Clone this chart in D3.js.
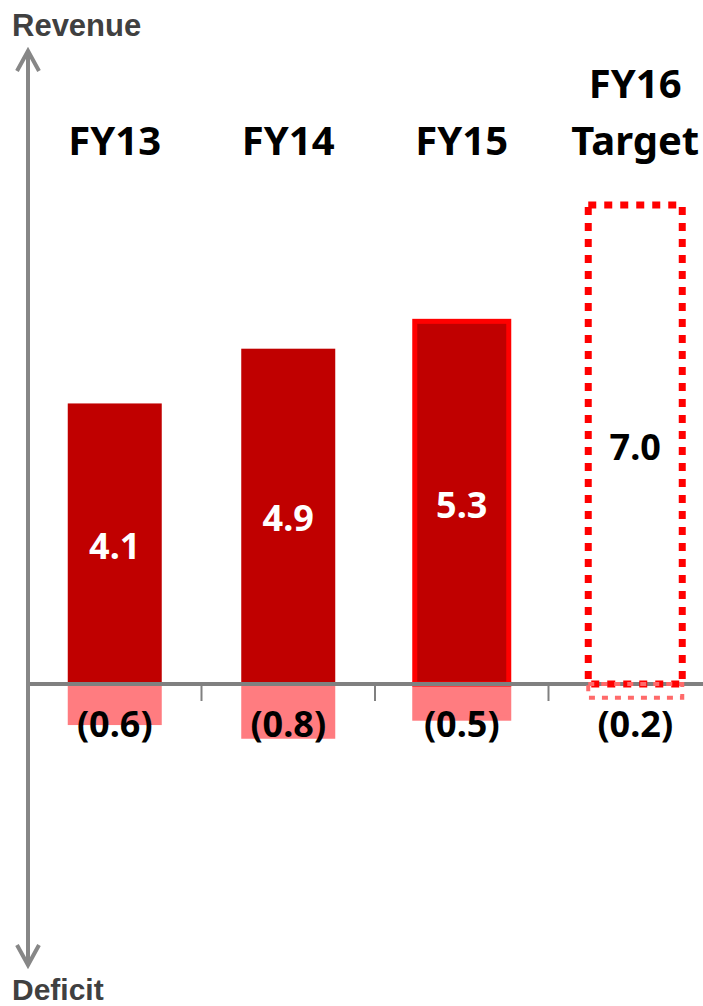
<!DOCTYPE html>
<meta charset="utf-8">
<html>
	<head>
		<title>Revenue and Deficit</title>
		<!-- Add scripts from D3  -->
		<script src="https://d3js.org/d3.v7.min.js"></script>
		<style>
			body {
			  margin: 0;
			  background: #fff;
			}
		</style>
	</head>
<body>
	<script type="text/javascript">

	// data
	var years = ["FY13", "FY14", "FY15", "FY16"];
	var yearLabels = [["FY13"], ["FY14"], ["FY15"], ["FY16", "Target"]];
	var revenue = [4.1, 4.9, 5.3, 7.0];
	var deficit = [-0.6, -0.8, -0.5, -0.2];
	var revenueText = ["4.1", "4.9", "5.3", "7.0"];
	var deficitText = ["(0.6)", "(0.8)", "(0.5)", "(0.2)"];

	var width = 703;
	var height = 1006;

	var svg = d3.select("body")
		.append("svg")
		.attr("width", width)
		.attr("height", height);

	// x scale: one band per year, the axis starts at the vertical arrow
	var x = d3.scaleBand()
		.domain(years)
		.range([28, 722])
		.padding(0);

	var barWidth = 94;

	// y scale: zero sits on the horizontal axis
	var y = d3.scaleLinear()
		.domain([0, 7])
		.range([684, 205]);

	function barX(d) {
		return x(d) + x.bandwidth() / 2 - barWidth / 2;
	}

	var numFont = "'Noto Sans', sans-serif";

	// deficit bars (pink), the target one is only a dotted box
	svg.selectAll(".neg")
		.data(years.slice(0, 3))
		.enter()
		.append("rect")
		.attr("class", "neg")
		.attr("x", barX)
		.attr("y", y(0))
		.attr("width", barWidth)
		.attr("height", function(d, i) { return y(deficit[i]) - y(0); })
		.attr("fill", "#FF7C80")
		.attr("stroke", function(d, i) { return i == 2 ? "#FF7C80" : "none"; })
		.attr("stroke-width", 5);

	// revenue bars (dark red)
	svg.selectAll(".pos")
		.data(years.slice(0, 3))
		.enter()
		.append("rect")
		.attr("class", "pos")
		.attr("x", barX)
		.attr("y", function(d, i) { return y(revenue[i]); })
		.attr("width", barWidth)
		.attr("height", function(d, i) { return y(0) - y(revenue[i]); })
		.attr("fill", "#C00000")
		.attr("stroke", function(d, i) { return i == 2 ? "#FF0000" : "none"; })
		.attr("stroke-width", 5);

	// horizontal axis
	svg.append("line")
		.attr("x1", 28)
		.attr("x2", width)
		.attr("y1", y(0))
		.attr("y2", y(0))
		.attr("stroke", "#808080")
		.attr("stroke-width", 4);

	// tick marks between the years
	svg.selectAll(".tick")
		.data(years.slice(1))
		.enter()
		.append("line")
		.attr("class", "tick")
		.attr("x1", function(d) { return x(d); })
		.attr("x2", function(d) { return x(d); })
		.attr("y1", y(0))
		.attr("y2", y(0) + 17)
		.attr("stroke", "#808080")
		.attr("stroke-width", 2);

	// FY16 target: dotted boxes
	svg.append("rect")
		.attr("x", barX("FY16"))
		.attr("y", y(revenue[3]))
		.attr("width", barWidth)
		.attr("height", y(0) - y(revenue[3]))
		.attr("fill", "none")
		.attr("stroke", "#FF0000")
		.attr("stroke-width", 7)
		.attr("stroke-dasharray", "8,8");

	svg.append("rect")
		.attr("x", barX("FY16"))
		.attr("y", y(0))
		.attr("width", barWidth)
		.attr("height", y(deficit[3]) - y(0))
		.attr("fill", "none")
		.attr("stroke", "#FF6A6A")
		.attr("stroke-width", 4)
		.attr("stroke-dasharray", "6,7");

	// vertical axis with arrow heads at both ends
	svg.append("line")
		.attr("x1", 28)
		.attr("x2", 28)
		.attr("y1", 52)
		.attr("y2", 963)
		.attr("stroke", "#878787")
		.attr("stroke-width", 4);

	svg.append("path")
		.attr("d", "M17,71 L28,51 L39,71 M17,945 L28,965 L39,945")
		.attr("fill", "none")
		.attr("stroke", "#878787")
		.attr("stroke-width", 4);

	// axis titles
	svg.append("text")
		.attr("x", 12)
		.attr("y", 36)
		.attr("font-family", "'Liberation Sans', Arial, sans-serif")
		.attr("font-weight", "bold")
		.attr("font-size", 31)
		.attr("fill", "#404040")
		.text("Revenue");

	svg.append("text")
		.attr("x", 12)
		.attr("y", 1000)
		.attr("font-family", "'Liberation Sans', Arial, sans-serif")
		.attr("font-weight", "bold")
		.attr("font-size", 30)
		.attr("fill", "#404040")
		.text("Deficit");

	// year labels above the bars
	svg.selectAll(".year")
		.data(yearLabels)
		.enter()
		.append("text")
		.attr("class", "year")
		.attr("text-anchor", "middle")
		.attr("font-family", numFont)
		.attr("font-weight", "bold")
		.attr("font-size", 40)
		.attr("fill", "#000")
		.each(function(d, i) {
			var t = d3.select(this);
			var cx = x(years[i]) + x.bandwidth() / 2;
			d.forEach(function(line, j) {
				t.append("tspan")
					.attr("x", cx)
					.attr("y", 155 - (d.length - 1 - j) * 57)
					.text(line);
			});
		});

	// revenue values in the middle of the bars
	svg.selectAll(".val")
		.data(revenueText)
		.enter()
		.append("text")
		.attr("class", "val")
		.attr("text-anchor", "middle")
		.attr("x", function(d, i) { return x(years[i]) + x.bandwidth() / 2; })
		.attr("y", function(d, i) { return (y(revenue[i]) + y(0)) / 2 + 15; })
		.attr("font-family", numFont)
		.attr("font-weight", "bold")
		.attr("font-size", 36)
		.attr("fill", function(d, i) { return i == 3 ? "#000" : "#fff"; })
		.text(function(d) { return d; });

	// deficit values under the axis
	svg.selectAll(".def")
		.data(deficitText)
		.enter()
		.append("text")
		.attr("class", "def")
		.attr("text-anchor", "middle")
		.attr("x", function(d, i) { return x(years[i]) + x.bandwidth() / 2; })
		.attr("y", 737)
		.attr("font-family", numFont)
		.attr("font-weight", "bold")
		.attr("font-size", 36)
		.attr("fill", "#000")
		.text(function(d) { return d; });

	</script>
</body>
</html>
